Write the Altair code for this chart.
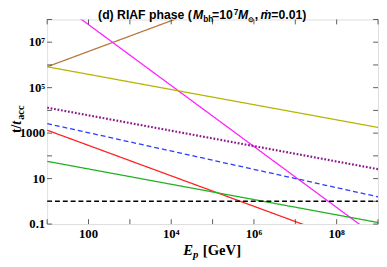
import altair as alt
import pandas as pd

# Line endpoints (E in GeV, t/t_acc)
E_ends = [10, 1e9]
series = {
    "brown":   [8.3e5, 2.1e11],
    "magenta": [1.3e9, 0.0245],
    "olive":   [8.3e5, 1780],
    "purple":  [13200, 26],
    "blue":    [2630, 1.58],
    "red":     [1350, 0.0059],
    "green":   [57.5, 0.117],
    "black":   [1.0, 1.0],
}
colors = {
    "brown": "#b5773c", "magenta": "#ff22ff", "olive": "#b8b400",
    "purple": "#8a1a8a", "blue": "#2b3cff", "red": "#ff2020",
    "green": "#22b022", "black": "#000000",
}
dashes = {"purple": [1.8, 1.8], "blue": [5, 3], "black": [5, 3]}
widths = {"purple": 2.2, "black": 1.5}

x_ticks = [1e1, 1e2, 1e3, 1e4, 1e5, 1e6, 1e7, 1e8, 1e9]
x_label_vals = [1e2, 1e4, 1e6, 1e8]
x_label_text = ["100", "10⁴", "10⁶", "10⁸"]
y_ticks = [0.1, 1, 10, 100, 1e3, 1e4, 1e5, 1e6, 1e7, 1e8]
y_label_vals = [0.1, 10, 1e3, 1e5, 1e7]
y_label_text = ["0.1", "10", "1000", "10⁵", "10⁷"]

W, H = 338, 209
xs = alt.Scale(type="log", domain=[10, 1e9], nice=False)
ys = alt.Scale(type="log", domain=[0.1, 1e8], nice=False)

layers = []
for name, vals in series.items():
    df = pd.DataFrame({"E": E_ends, "v": vals})
    layers.append(
        alt.Chart(df).mark_line(
            clip=True, color=colors[name], strokeWidth=widths.get(name, 1.3),
            strokeDash=dashes.get(name, [1, 0])
        ).encode(
            x=alt.X("E:Q", scale=xs, axis=None),
            y=alt.Y("v:Q", scale=ys, axis=None),
        )
    )

# inward ticks
xt = pd.DataFrame({"E": x_ticks})
yt = pd.DataFrame({"v": y_ticks})
tk = dict(color="#333333", strokeWidth=0.8)
layers.append(alt.Chart(xt).mark_rule(**tk).encode(
    x=alt.X("E:Q", scale=xs, axis=None), y=alt.value(H), y2=alt.value(H - 5)))
layers.append(alt.Chart(xt).mark_rule(**tk).encode(
    x=alt.X("E:Q", scale=xs, axis=None), y=alt.value(0), y2=alt.value(5)))
layers.append(alt.Chart(yt).mark_rule(**tk).encode(
    y=alt.Y("v:Q", scale=ys, axis=None), x=alt.value(0), x2=alt.value(5)))
layers.append(alt.Chart(yt).mark_rule(**tk).encode(
    y=alt.Y("v:Q", scale=ys, axis=None), x=alt.value(W), x2=alt.value(W - 5)))

# tick labels
lab = dict(font="Liberation Serif", fontWeight="bold", fontSize=13, color="black")
layers.append(alt.Chart(pd.DataFrame({"E": x_label_vals, "t": x_label_text})).mark_text(
    align="center", baseline="alphabetic", **lab).encode(
    x=alt.X("E:Q", scale=xs, axis=None), y=alt.value(H + 14), text="t:N"))
layers.append(alt.Chart(pd.DataFrame({"v": y_label_vals, "t": y_label_text})).mark_text(
    align="right", baseline="middle", dx=-2, **lab).encode(
    y=alt.Y("v:Q", scale=ys, axis=None), x=alt.value(0), text="t:N"))

# text helper (positions relative to plot origin at page (48,17))
def txt(s, px, py, size, font="Liberation Sans", weight="bold", style="normal", angle=0):
    return alt.Chart(pd.DataFrame({"t": [s]})).mark_text(
        align="left", baseline="alphabetic", font=font, fontSize=size,
        fontWeight=weight, fontStyle=style, angle=angle, color="black"
    ).encode(text="t:N", x=alt.value(px - 48), y=alt.value(py - 17))

# title pieces
tb = 16.8
layers += [
    txt("(d) RIAF phase (", 100, tb, 12.5),
    txt("M", 197, tb, 12.5, style="italic"),
    txt("bh", 207.5, tb + 2.5, 8.5),
    txt("=10", 216.5, tb, 12.5),
    txt("7", 238.5, tb - 4.5, 8.5),
    txt("M", 243, tb, 12.5, style="italic"),
    txt("⊙", 253.5, tb + 3, 7.5),
    txt(",", 260, tb, 12.5),
    txt("ṁ", 266, tb, 12.5, style="italic"),
    txt("=0.01)", 277, tb, 12.5),
]
# y title
layers += [
    txt("t/", 21, 133, 14, font="Liberation Serif", angle=270),
    txt("t", 21, 124.5, 14, font="Liberation Serif", style="italic", angle=270),
    txt("acc", 24, 119.5, 10.5, font="Liberation Serif", angle=270),
]
# x title
layers += [
    txt("E", 187, 258, 15, font="Liberation Serif", style="italic"),
    txt("p", 197, 261, 11, font="Liberation Serif", style="italic"),
    txt("[GeV]", 207, 258, 15, font="Liberation Serif"),
]

chart = alt.layer(*layers).properties(
    width=W, height=H, autosize=alt.AutoSizeParams(type="none"),
    padding={"left": 40, "top": 9, "right": 1, "bottom": 34},
).configure_view(stroke="#333333", strokeWidth=1.2).configure(background="white")

chart.save("out.html", embed_options={"renderer": "svg", "actions": False})
